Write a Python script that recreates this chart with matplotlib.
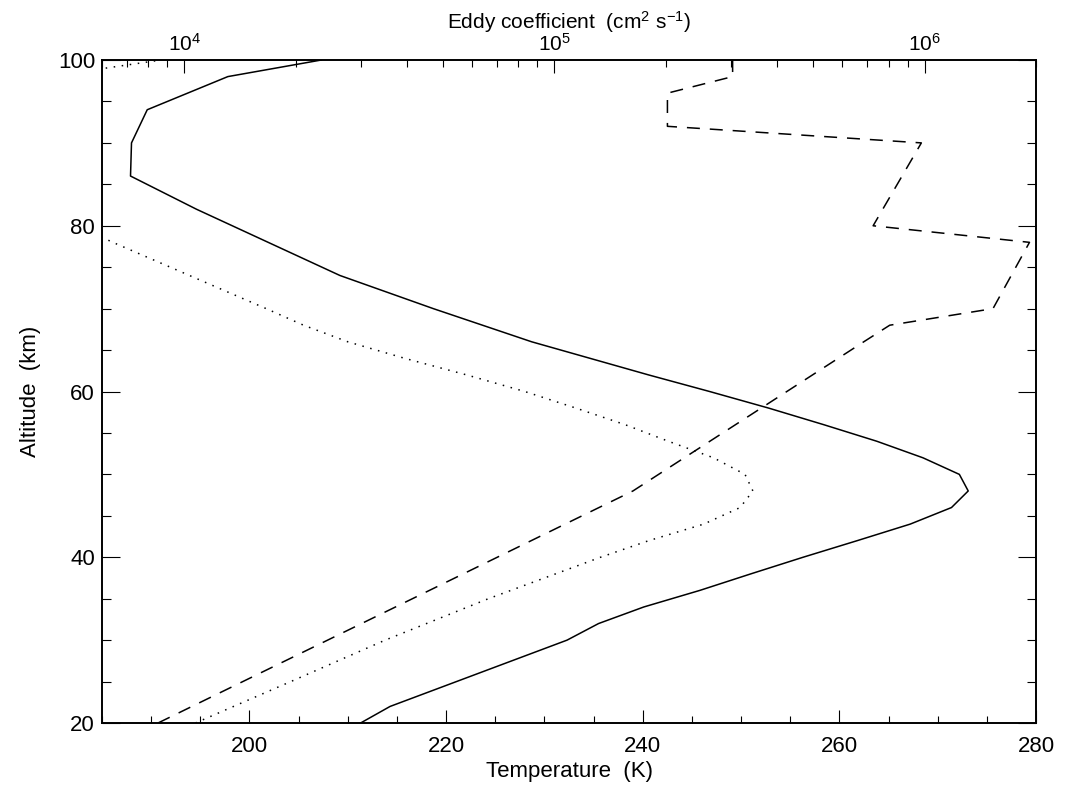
import numpy as np
import matplotlib
matplotlib.use('Agg')
import matplotlib.pyplot as plt
from matplotlib.ticker import MultipleLocator, LogLocator, LogFormatterMathtext

plt.rcParams['font.family'] = ['Liberation Sans', 'DejaVu Sans']
plt.rcParams['mathtext.fontset'] = 'custom'
plt.rcParams['mathtext.rm'] = 'Liberation Sans'
plt.rcParams['mathtext.default'] = 'regular'

# temperature profile (solid), K vs km
alt_t = [20, 22, 24, 26, 28, 30, 32, 34, 36, 38, 40, 42, 44, 46, 48, 50, 52, 54,
         56, 58, 60, 62, 66, 70, 74, 78, 82, 86, 90, 94, 98, 100]
temp1 = [211.3, 214.3, 218.8, 223.3, 227.8, 232.3, 235.5, 240.1, 245.8, 251.0,
         256.3, 261.8, 267.2, 271.4, 273.1, 272.2, 268.5, 263.8, 258.4, 252.8,
         246.8, 240.6, 228.7, 218.7, 209.2, 201.9, 194.6, 187.9, 188.0, 189.6,
         197.8, 207.3]

# second temperature profile (dotted)
alt_d = [20, 25, 30, 35, 40, 42, 44, 46, 48, 50, 52, 54, 56, 58, 60, 62, 64, 66,
         68, 70, 72, 74, 76, 78, 80, 85, 90, 95, 98, 100]
temp2 = [194.5, 204.2, 213.8, 224.3, 235.7, 240.6, 246.2, 249.9, 251.2, 250.4,
         247.2, 242.6, 238.2, 233.2, 228.0, 222.1, 215.8, 210.0, 205.5, 201.7,
         197.8, 193.9, 190.0, 186.1, 182.5, 179.0, 177.0, 177.5, 179.5, 191.0]

# eddy coefficient (dashed), cm2 s-1
alt_k = [20, 48, 66, 68, 70, 78, 80, 90, 92, 96, 98, 100]
eddy = [8.5e3, 1.63e5, 6.85e5, 8.05e5, 1.53e6, 1.92e6, 7.26e5, 9.8e5,
        2.02e5, 2.02e5, 3.03e5, 3.03e5]

fig = plt.figure(figsize=(10.67, 7.96), dpi=100)
ax = fig.add_axes([0.0956, 0.0917, 0.8754, 0.8329])
lw = 1.1
fs = 16

ax.plot(temp1, alt_t, color='black', lw=lw)
ax.plot(temp2, alt_d, color='black', lw=lw, ls=(0, (1, 4.3)))
ax.set_xlim(185, 280)
ax.set_ylim(20, 100)
ax.xaxis.set_major_locator(MultipleLocator(20))
ax.xaxis.set_minor_locator(MultipleLocator(5))
ax.yaxis.set_major_locator(MultipleLocator(20))
ax.yaxis.set_minor_locator(MultipleLocator(5))
ax.tick_params(axis='x', which='major', direction='in', length=9.5, width=0.8,
               top=False, labelsize=fs, pad=9)
ax.tick_params(axis='x', which='minor', direction='in', length=4.8, width=0.8, top=False)
ax.tick_params(axis='y', which='major', direction='in', length=13.3, width=0.8,
               right=True, labelsize=fs, pad=5)
ax.tick_params(axis='y', which='minor', direction='in', length=6.7, width=0.8, right=True)
ax.set_xlabel('Temperature  (K)', fontsize=fs, labelpad=3)
ax.set_ylabel('Altitude  (km)', fontsize=fs, labelpad=12)

ax2 = ax.twiny()
ax2.plot(eddy, alt_k, color='black', lw=lw, ls=(0, (8.5, 6.5)))
ax2.set_xscale('log')
ax2.set_xlim(6e3, 2e6)
ax2.xaxis.set_major_locator(LogLocator(base=10))
ax2.xaxis.set_minor_locator(LogLocator(base=10, subs=np.arange(2, 10)))
ax2.xaxis.set_major_formatter(LogFormatterMathtext())
ax2.tick_params(axis='x', which='major', direction='in', length=9.5, width=0.8,
                labelsize=15, pad=4)
ax2.tick_params(axis='x', which='minor', direction='in', length=4.8, width=0.8)
ax2.set_xlabel('Eddy coefficient  (cm$^2$ s$^{-1}$)', fontsize=15, labelpad=3)

for a in (ax, ax2):
    for s in a.spines.values():
        s.set_linewidth(1.2)

fig.savefig('out.png', dpi=100)
